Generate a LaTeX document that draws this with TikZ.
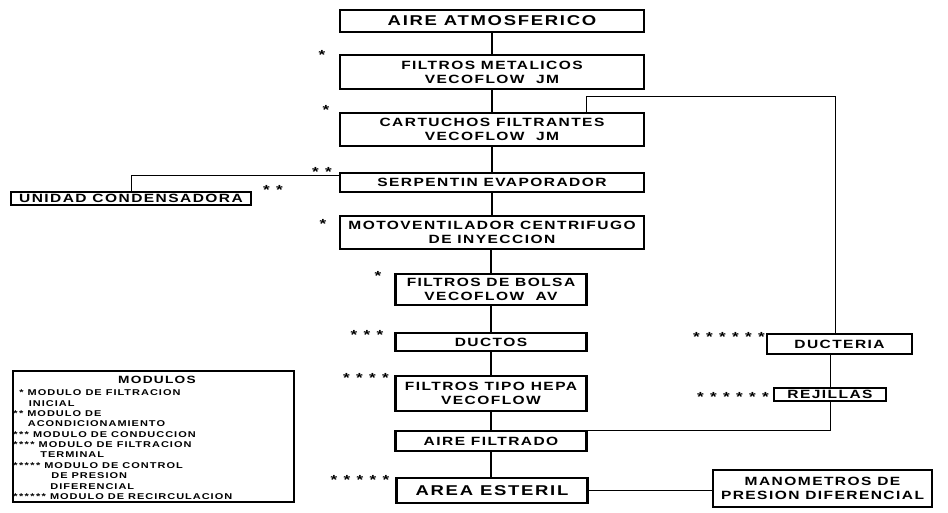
\documentclass[tikz,border=0pt]{standalone}
\usepackage{fontspec}
\setmainfont{Liberation Sans}[FakeStretch=1.3, LetterSpace=12]
\usetikzlibrary{positioning}
\tikzset{
  stage/.style   = {draw, line width=1.3pt, fill=white,
                    minimum width=6.08cm, align=center, inner sep=1pt,
                    font=\bfseries\fontsize{6.8}{8}\selectfont},
  stagesm/.style = {stage, minimum width=3.82cm},
  sidebox/.style = {stage, minimum width=2.9cm},
  bigtxt/.style  = {font=\bfseries\fontsize{8.1}{9}\selectfont},
  starmark/.style= {font=\bfseries\fontsize{7.5}{8}\selectfont, inner sep=0pt, anchor=north},
  legtxt/.style  = {font=\bfseries\fontsize{4.8}{5.9}\selectfont, align=left, inner sep=0pt},
  link/.style    = {line width=0.7pt},
  retlink/.style = {line width=0.5pt},
}

\begin{document}
\begin{tikzpicture}[x=0.02cm, y=-0.02cm]
    \useasboundingbox (0,0) rectangle (948,513);

    % main column : outside air -> clean room
    \node[stage, bigtxt, minimum height=4.34mm] (atmos)    at (492,21)    {AIRE ATMOSFERICO};
    \node[stage,   minimum height=6.74mm]       (metal)    at (492,72)    {FILTROS METALICOS\\VECOFLOW\ \ JM};
    \node[stage,   minimum height=6.54mm]       (cartu)    at (492,129.5) {CARTUCHOS FILTRANTES\\VECOFLOW\ \ JM};
    \node[stage,   minimum height=3.74mm]       (serp)     at (492,182.5) {SERPENTIN EVAPORADOR};
    \node[stage,   minimum height=6.54mm]       (moto)     at (492,232.5) {MOTOVENTILADOR CENTRIFUGO\\DE INYECCION};
    \node[stagesm, minimum height=6.14mm]       (bolsa)    at (491,289.5) {FILTROS DE BOLSA\\VECOFLOW\ \ AV};
    \node[stagesm, minimum height=3.54mm]       (ductos)   at (491,342)   {DUCTOS};
    \node[stagesm, minimum height=6.94mm]       (hepa)     at (491,393.5) {FILTROS TIPO HEPA\\VECOFLOW};
    \node[stagesm, minimum height=3.94mm]       (filtrado) at (491,441)   {AIRE FILTRADO};
    \node[stagesm, bigtxt, minimum height=4.94mm] (area)   at (492,490.5) {AREA ESTERIL};

    % side boxes
    \node[stage, minimum width=4.80cm, minimum height=2.6mm]   (unidad)   at (131,198.5) {UNIDAD CONDENSADORA};
    \node[sidebox, minimum height=3.94mm]                      (ducteria) at (839.5,344)  {DUCTERIA};
    \node[sidebox, minimum width=2.24cm, minimum height=2.6mm] (rejillas) at (830,394.5) {REJILLAS};
    \node[stage, minimum width=4.38cm, minimum height=7.54mm]  (mano)     at (822.5,488.5) {MANOMETROS DE\\PRESION DIFERENCIAL};

    % module marks
    \node[starmark] (m1)  at (322,50)  {*};
    \node[starmark] (m2)  at (326,105) {*};
    \node[starmark] (m3)  at (322,167) {* *};
    \node[starmark] (m4)  at (273,185) {* *};
    \node[starmark] (m5)  at (323,219) {*};
    \node[starmark] (m6)  at (378,271) {*};
    \node[starmark] (m7)  at (367,330) {* * *};
    \node[starmark] (m8)  at (366,373) {* * * *};
    \node[starmark] (m9)  at (360,475) {* * * * *};
    \node[starmark] (m10) at (729,332) {* * * * * *};
    \node[starmark] (m11) at (733,392) {* * * * * *};

    % legend
    \node[draw, line width=1pt, minimum width=5.62cm, minimum height=2.62cm] (leg) at (153.5,436.5) {};
    \node[font=\bfseries\fontsize{6}{6}\selectfont, inner sep=0pt] (legtitle) at (157,380) {MODULOS};
    \node[legtxt, anchor=north west] (leglist) at (13,389.5) {%
      \hspace{1.2mm}*\ MODULO DE FILTRACION\\
      \hspace{3.1mm}INICIAL\\
      *\,*\ MODULO DE\\
      \hspace{2.9mm}ACONDICIONAMIENTO\\
      *\,*\,*\ MODULO DE CONDUCCION\\
      *\,*\,*\,*\ MODULO DE FILTRACION\\
      \hspace{5.4mm}TERMINAL\\
      *\,*\,*\,*\,*\ MODULO DE CONTROL\\
      \hspace{7.6mm}DE PRESION\\
      \hspace{7.4mm}DIFERENCIAL\\
      *\,*\,*\,*\,*\,*\ MODULO DE RECIRCULACION};

    \draw[link] (atmos) -- (metal) -- (cartu) -- (serp) -- (moto);
    \draw[link] (moto.south -| bolsa) -- (bolsa) -- (ductos) -- (hepa) -- (filtrado);
    \draw[link] (filtrado) -- (filtrado |- area.north);
    \draw[retlink] ([yshift=-0.06cm]serp.north west) -| (unidad.north);
    \coordinate (ret) at (835,96);
    \draw[retlink] ([xshift=1.88cm]cartu.north) |- (ret) -- (ret |- ducteria.north);
    \draw[retlink] (rejillas.north |- ducteria.south) -- (rejillas.north);
    \draw[retlink] (rejillas.south) |- (filtrado.north east);
    \draw[retlink] (area.east) -- (area.east -| mano.west);
  \end{tikzpicture}
\end{document}
